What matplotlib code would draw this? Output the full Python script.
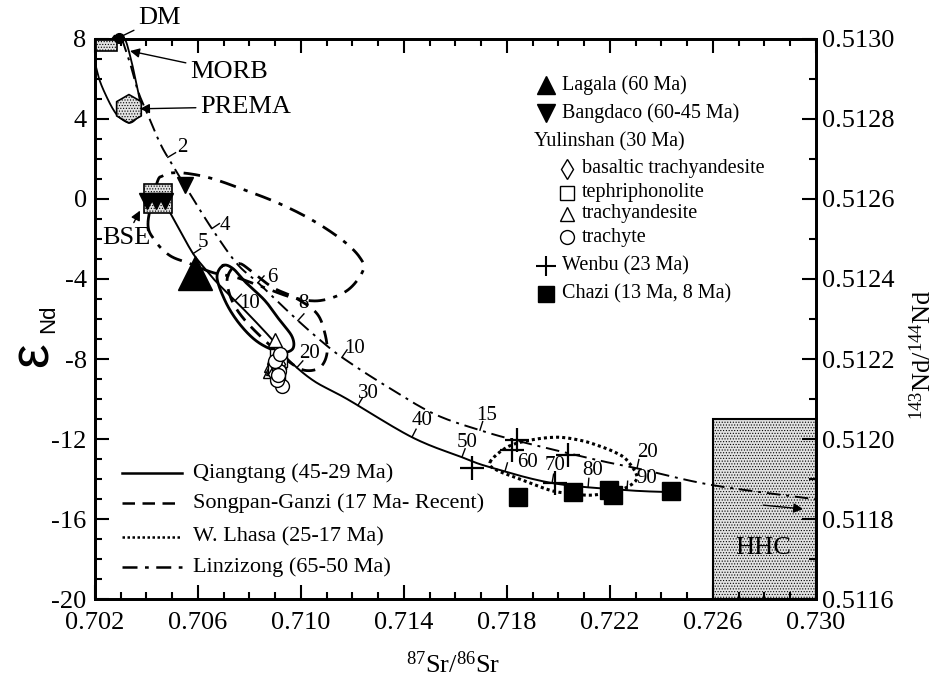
import numpy as np
import matplotlib
matplotlib.use("Agg")
import matplotlib.pyplot as plt
from matplotlib.patches import Rectangle
from matplotlib.lines import Line2D
from matplotlib.ticker import MultipleLocator

plt.rcParams['font.family'] = ['Liberation Serif', 'DejaVu Serif']
plt.rcParams['mathtext.fontset'] = 'custom'
plt.rcParams['mathtext.rm'] = 'Liberation Serif'
plt.rcParams['mathtext.it'] = 'Liberation Serif:italic'
plt.rcParams['mathtext.default'] = 'regular'
plt.rcParams['axes.unicode_minus'] = False
plt.rcParams['hatch.linewidth'] = 0.5
plt.rcParams['hatch.color'] = '#707070'

# ---- samples (87Sr/86Sr, eps Nd) ----
lagala_sr = [0.70588]
lagala_nd = [-3.70]
bangdaco_sr = [0.70402, 0.70437, 0.70472, 0.70550]
bangdaco_nd = [-0.08, -0.08, -0.08, 0.72]
yl_bta_sr = [0.70910, 0.70920, 0.70895, 0.70915, 0.70905]
yl_bta_nd = [-7.95, -8.50, -8.75, -8.25, -8.40]
yl_tp_sr = [0.70905, 0.70915, 0.70900, 0.70910, 0.70920]
yl_tp_nd = [-7.85, -8.15, -8.45, -8.90, -8.05]
yl_ta_sr = [0.70899, 0.70885, 0.70880, 0.70895, 0.70890]
yl_ta_nd = [-7.05, -8.30, -8.60, -7.90, -8.45]
yl_tr_sr = [0.70926, 0.70905, 0.70915, 0.70900, 0.70920, 0.70910]
yl_tr_nd = [-9.35, -9.05, -8.60, -8.10, -7.75, -8.80]
wenbu_sr = [0.71664, 0.71839, 0.71819, 0.72037, 0.71986]
wenbu_nd = [-13.46, -12.06, -12.56, -12.81, -14.20]
chazi_sr = [0.71843, 0.72056, 0.72196, 0.72212, 0.72437]
chazi_nd = [-14.90, -14.65, -14.55, -14.80, -14.60]

# ---- mixing curves ----
qt_mix_sr = [0.70483, 0.70530, 0.70581, 0.70627, 0.70674, 0.70790, 0.70891, 0.70946,
             0.71047, 0.71179, 0.71431, 0.71625, 0.71734, 0.71979, 0.72266, 0.72445]
qt_mix_nd = [-0.48, -1.58, -2.73, -3.48, -4.18, -5.68, -7.07, -7.97,
             -9.07, -10.00, -11.91, -12.91, -13.41, -14.21, -14.56, -14.66]
qt_tick_sr = [0.70581, 0.70744, 0.70984, 0.71221, 0.71431, 0.71625, 0.71792, 0.71975, 0.72115, 0.72266]
qt_tick_lab = ['5', '10', '20', '30', '40', '50', '60', '70', '80', '90']
qt_lab_sr = [0.70619, 0.70802, 0.71035, 0.71260, 0.71470, 0.71645, 0.71878, 0.71986, 0.72134, 0.72344]
qt_lab_nd = [-2.18, -5.23, -7.72, -9.72, -11.07, -12.16, -13.16, -13.31, -13.56, -13.96]

lz_mix_sr = [0.70305, 0.70336, 0.70367, 0.70402, 0.70452, 0.70491, 0.70569, 0.70654, 0.70751,
             0.70833, 0.70918, 0.70996, 0.71085, 0.71163, 0.71318, 0.71513, 0.71695, 0.71862,
             0.72150, 0.72317, 0.72600, 0.72996]
lz_mix_nd = [8.0, 6.80, 5.40, 4.31, 2.81, 1.91, 0.26, -1.48, -3.23,
             -4.18, -5.23, -6.17, -7.17, -7.95, -9.25, -10.72, -11.56, -12.16,
             -13.05, -13.50, -14.31, -15.01]
lz_tick_sr = [0.70483, 0.70654, 0.70833, 0.70988, 0.71159, 0.71695, 0.72305]
lz_tick_lab = ['2', '4', '6', '8', '10', '15', '20']
lz_lab_sr = [0.70538, 0.70705, 0.70887, 0.71008, 0.71210, 0.71722, 0.72344]
lz_lab_nd = [2.56, -1.33, -3.93, -5.23, -7.47, -10.82, -12.66]

# DM - PREMA loop
dm_loop_sr = [0.70180, 0.70200, 0.70219, 0.70247, 0.70274, 0.70297, 0.70336, 0.70367,
              0.70375, 0.70363, 0.70348, 0.70324, 0.70310]
dm_loop_nd = [7.60, 6.80, 5.90, 5.06, 4.41, 4.06, 3.81, 4.16, 4.76, 5.65, 6.55, 7.75, 8.10]

# ---- field envelopes (closed) ----
qt_env_sr = [0.70697, 0.70674, 0.70705, 0.70751, 0.70810, 0.70868, 0.70930, 0.70969,
             0.70965, 0.70918, 0.70860, 0.70790, 0.70736]
qt_env_nd = [-3.33, -3.93, -5.08, -6.07, -6.92, -7.42, -7.67, -7.47,
             -6.87, -6.07, -5.08, -4.23, -3.48]
sg_env_sr = [0.70763, 0.70814, 0.70891, 0.70984, 0.71062, 0.71093, 0.71101, 0.71074,
             0.71016, 0.70957, 0.70880, 0.70783, 0.70732, 0.70713, 0.70732]
sg_env_nd = [-3.23, -3.68, -4.43, -4.98, -5.73, -6.72, -7.72, -8.42,
             -8.57, -8.17, -7.32, -6.07, -5.08, -4.08, -3.48]
wl_env_sr = [0.71734, 0.71800, 0.71889, 0.71994, 0.72083, 0.72150, 0.72219, 0.72266,
             0.72305, 0.72266, 0.72200, 0.72122, 0.72033, 0.71967, 0.71862, 0.71761]
wl_env_nd = [-13.16, -12.41, -12.06, -11.91, -12.06, -12.31, -12.66, -13.06,
             -13.91, -14.41, -14.66, -14.81, -14.71, -14.56, -14.06, -13.56]
lz_env_sr = [0.70406, 0.70433, 0.70491, 0.70569, 0.70658, 0.70751, 0.70868, 0.70969,
             0.71074, 0.71179, 0.71241, 0.71229, 0.71163, 0.71047, 0.70918, 0.70790,
             0.70658, 0.70569, 0.70503, 0.70464, 0.70441]
lz_env_nd = [-1.18, -2.08, -2.83, -3.23, -3.68, -3.93, -4.48, -4.93,
             -5.08, -4.58, -3.58, -2.93, -2.08, -1.08, -0.24, 0.41,
             1.01, 1.26, 1.31, 1.16, 0.81]

# ---- reservoirs ----
dm_box = (0.70200, 7.40, 0.00085, 0.60)
bse_box = (0.70389, -0.68, 0.00111, 1.44)
hhc_box = (0.72600, -20.0, 0.00400, 9.0)
prema_pt = (0.70332, 4.51)
morb_pt = (0.70293, 8.05)


def cr_spline(xs, ys, closed=False, n=20):
    pts = np.column_stack([xs, ys])
    if closed:
        P = np.vstack([pts[-1], pts, pts[0], pts[1]])
    else:
        P = np.vstack([pts[0], pts, pts[-1]])
    t = np.linspace(0, 1, n, endpoint=False)[:, None]
    out = []
    for i in range(1, len(P) - 2):
        p0, p1, p2, p3 = P[i - 1], P[i], P[i + 1], P[i + 2]
        out.append(0.5 * (2 * p1 + (-p0 + p2) * t + (2 * p0 - 5 * p1 + 4 * p2 - p3) * t ** 2
                          + (-p0 + 3 * p1 - 3 * p2 + p3) * t ** 3))
    out.append(P[-2][None])
    c = np.vstack(out)
    return c[:, 0], c[:, 1]


def curve_ticks(ax, cx, cy, tx, length=9, lw=1.0):
    for x in tx:
        y = np.interp(x, cx, cy)
        i = max(1, np.searchsorted(cx, x))
        a = ax.transData.transform((cx[i - 1], cy[i - 1]))
        b = ax.transData.transform((cx[i], cy[i]))
        d = (b - a) / np.hypot(*(b - a))
        nrm = np.array([-d[1], d[0]])
        if nrm[1] < 0:
            nrm = -nrm
        p = ax.transData.transform((x, y))
        q = ax.transData.inverted().transform(p + nrm * length)
        ax.plot([x, q[0]], [y, q[1]], color='k', lw=lw, zorder=3)


fig = plt.figure(figsize=(9.43, 6.78), dpi=100)
ax = fig.add_axes([0.1007, 0.1165, 0.7646, 0.826])
ax.set_xlim(0.702, 0.730)
ax.set_ylim(-20, 8)

# reservoirs
ax.add_patch(Rectangle(hhc_box[:2], hhc_box[2], hhc_box[3], facecolor='#e2e2e2',
                       edgecolor='k', hatch='......', lw=1.5, zorder=1))
ax.text(0.72794, -17.45, 'HHC', fontsize=19, ha='center', va='center', zorder=2)
ax.add_patch(Rectangle(dm_box[:2], dm_box[2], dm_box[3], facecolor='#e2e2e2',
                       edgecolor='k', hatch='......', lw=1.2, zorder=4, clip_on=False))
ax.add_patch(Rectangle(bse_box[:2], bse_box[2], bse_box[3], facecolor='#e2e2e2',
                       edgecolor='k', hatch='......', lw=1.2, zorder=4))
ax.scatter([prema_pt[0]], [prema_pt[1]], marker='h', s=420, facecolor='#e2e2e2',
           edgecolor='k', hatch='......', lw=1.2, zorder=4)
ax.plot([morb_pt[0]], [morb_pt[1]], 'o', color='k', ms=7, zorder=5, clip_on=False)

# curves
x, y = cr_spline(dm_loop_sr, dm_loop_nd)
ax.plot(x, y, color='k', lw=1.3, zorder=3)

qx, qy = cr_spline(qt_mix_sr, qt_mix_nd)
ax.plot(qx, qy, color='k', lw=1.4, zorder=3)
lx, ly = cr_spline(lz_mix_sr, lz_mix_nd)
ax.plot(lx, ly, color='k', lw=1.4, ls=(0, (7, 3, 1.5, 3)), zorder=3)

x, y = cr_spline(qt_env_sr, qt_env_nd, closed=True)
ax.plot(x, y, color='k', lw=2.0, zorder=3)
x, y = cr_spline(sg_env_sr, sg_env_nd, closed=True)
ax.plot(x, y, color='k', lw=2.0, ls=(0, (5, 3)), zorder=3)
x, y = cr_spline(wl_env_sr, wl_env_nd, closed=True)
ax.plot(x, y, color='k', lw=2.2, ls=(0, (1, 1)), zorder=3)
x, y = cr_spline(lz_env_sr, lz_env_nd, closed=True)
ax.plot(x, y, color='k', lw=2.0, ls=(0, (6, 3, 1.5, 3)), zorder=3)

curve_ticks(ax, qx, qy, qt_tick_sr)
curve_ticks(ax, lx, ly, lz_tick_sr)
for s, n, t in zip(qt_lab_sr, qt_lab_nd, qt_tick_lab):
    ax.text(s, n, t, fontsize=15, ha='center', va='center', zorder=6)
for s, n, t in zip(lz_lab_sr, lz_lab_nd, lz_tick_lab):
    ax.text(s, n, t, fontsize=15, ha='center', va='center', zorder=6)

# samples
ax.plot(lagala_sr, lagala_nd, '^', color='k', ms=25, zorder=5)
ax.plot(bangdaco_sr, bangdaco_nd, 'v', color='k', ms=12, zorder=5)
op = dict(ls='none', mfc='white', mec='k', mew=1.0, ms=10, zorder=5)
ax.plot(yl_ta_sr, yl_ta_nd, marker='^', **op)
ax.plot(yl_tp_sr, yl_tp_nd, marker='s', **op)
ax.plot(yl_bta_sr, yl_bta_nd, marker='d', **op)
ax.plot(yl_tr_sr, yl_tr_nd, marker='o', **op)
ax.plot(wenbu_sr, wenbu_nd, '+', color='k', ms=17, mew=1.6, zorder=5)
ax.plot(chazi_sr, chazi_nd, 's', color='k', ms=13, zorder=5)

# annotations
arw = dict(arrowstyle='-|>', color='k', lw=1.0, shrinkA=1, shrinkB=0, mutation_scale=14)
ax.annotate('DM', xy=(0.70250, 7.80), xytext=(0.70367, 9.05), fontsize=19, ha='left',
            va='center', annotation_clip=False, arrowprops=arw)
ax.annotate('MORB', xy=(0.70336, 7.40), xytext=(0.70569, 6.35), fontsize=19, ha='left',
            va='center', arrowprops=arw)
ax.annotate('PREMA', xy=(0.70375, 4.51), xytext=(0.70608, 4.61), fontsize=19, ha='left',
            va='center', arrowprops=arw)
ax.annotate('BSE', xy=(0.70375, -0.58), xytext=(0.70227, -1.93), fontsize=19, ha='left',
            va='center', arrowprops=arw)
ax.annotate('', xy=(0.72950, -15.5), xytext=(0.72790, -15.3), arrowprops=arw)

# sample legend (top right)
tr = ax.transAxes
leg_rows = [0.918, 0.868, 0.816, 0.768, 0.725, 0.6875, 0.646, 0.595, 0.545]
mk_x, tx_x, sub_mk, sub_tx, head_x = 0.626, 0.648, 0.655, 0.675, 0.609
lfs = 14.5
ax.plot([mk_x], [leg_rows[0]], '^', color='k', ms=13, transform=tr, clip_on=False)
ax.text(tx_x, leg_rows[0], 'Lagala (60 Ma)', fontsize=lfs, va='center', transform=tr)
ax.plot([mk_x], [leg_rows[1]], 'v', color='k', ms=13, transform=tr, clip_on=False)
ax.text(tx_x, leg_rows[1], 'Bangdaco (60-45 Ma)', fontsize=lfs, va='center', transform=tr)
ax.text(head_x, leg_rows[2], 'Yulinshan (30 Ma)', fontsize=lfs, va='center', transform=tr)
for r, m, lab in zip(leg_rows[3:7], ['d', 's', '^', 'o'],
                     ['basaltic trachyandesite', 'tephriphonolite', 'trachyandesite', 'trachyte']):
    ax.plot([sub_mk], [r], marker=m, ls='none', mfc='white', mec='k', mew=1.0, ms=10,
            transform=tr, clip_on=False)
    ax.text(sub_tx, r, lab, fontsize=lfs, va='center', transform=tr)
ax.plot([mk_x], [leg_rows[7]], '+', color='k', ms=14, mew=1.5, transform=tr, clip_on=False)
ax.text(tx_x, leg_rows[7], 'Wenbu (23 Ma)', fontsize=lfs, va='center', transform=tr)
ax.plot([mk_x], [leg_rows[8]], 's', color='k', ms=11, transform=tr, clip_on=False)
ax.text(tx_x, leg_rows[8], 'Chazi (13 Ma, 8 Ma)', fontsize=lfs, va='center', transform=tr)

# field legend (bottom left)
fld_rows = [0.225, 0.171, 0.111, 0.057]
fld_ls = ['-', (0, (5, 3)), (0, (1, 1)), (0, (6, 3, 1.5, 3))]
fld_lab = ['Qiangtang (45-29 Ma)', 'Songpan-Ganzi (17 Ma- Recent)',
           'W. Lhasa (25-17 Ma)', 'Linzizong (65-50 Ma)']
for r, ls, lab in zip(fld_rows, fld_ls, fld_lab):
    ax.add_line(Line2D([0.037, 0.121], [r, r], transform=tr, color='k', lw=1.8, ls=ls))
    ax.text(0.136, r, lab, fontsize=16, va='center', transform=tr)

# axes styling
ax.set_xticks(np.arange(0.702, 0.7301, 0.004))
ax.set_xticklabels([f'{v:.3f}' for v in np.arange(0.702, 0.7301, 0.004)])
ax.xaxis.set_minor_locator(MultipleLocator(0.001))
ax.set_yticks(np.arange(-20, 8.1, 4))
ax.yaxis.set_minor_locator(MultipleLocator(1))
ax.tick_params(which='both', direction='in', top=True, right=False, width=1.5, labelsize=19)
ax.tick_params(which='major', length=10)
ax.tick_params(which='minor', length=5)
ax.tick_params(axis='x', which='major', pad=9)
ax.tick_params(axis='y', which='major', pad=6)
for sp in ax.spines.values():
    sp.set_linewidth(2)

ax2 = ax.twinx()
ax2.set_ylim(0.5116, 0.5130)
ax2.set_yticks(np.arange(0.5116, 0.51301, 0.0002))
ax2.set_yticklabels([f'{v:.4f}' for v in np.arange(0.5116, 0.51301, 0.0002)])
ax2.yaxis.set_minor_locator(MultipleLocator(0.0001))
ax2.tick_params(which='both', direction='in', width=1.5, labelsize=19)
ax2.tick_params(which='major', length=10, pad=4)
ax2.tick_params(which='minor', length=5)
for sp in ax2.spines.values():
    sp.set_linewidth(2)
ax2.set_ylabel(r'$^{143}$Nd/$^{144}$Nd', fontsize=19)
ax2.yaxis.set_label_coords(1.13, 0.436)

ax.text(0.497, -0.118, r'$^{87}$Sr/$^{86}$Sr', fontsize=19, ha='center', va='center', transform=tr)
ax.text(-0.085, 0.436, '\u03b5', family=['Liberation Sans', 'DejaVu Sans'], fontsize=40,
        rotation=90, ha='center', va='center', transform=tr)
ax.text(-0.064, 0.500, 'Nd', family=['Liberation Sans', 'DejaVu Sans'], fontsize=16,
        rotation=90, ha='center', va='center', transform=tr)

fig.savefig('out.png', dpi=100, facecolor='white')
